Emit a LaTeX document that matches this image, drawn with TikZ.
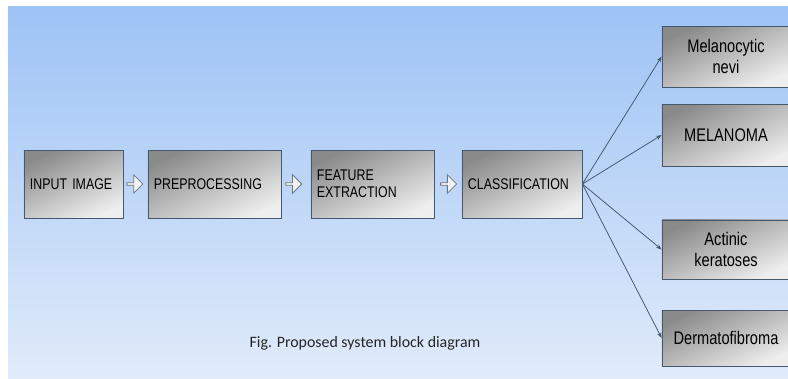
\documentclass[tikz,border=0pt]{standalone}
\usepackage{fontspec}
\usepackage{xcolor}
\usepackage{tikz}
\usetikzlibrary{shapes.arrows, arrows.meta, positioning, calc}
\newfontfamily\boxfont[FakeStretch=0.8]{Liberation Sans}
\newfontfamily\capfont{Carlito}
\definecolor{bgtop}{RGB}{157,195,245}
\definecolor{bgbot}{RGB}{225,235,250}
\definecolor{boxtop}{RGB}{138,138,138}
\definecolor{boxbot}{RGB}{238,238,238}
\definecolor{edgeblue}{RGB}{70,88,112}
\definecolor{arrowedge}{RGB}{105,118,132}

\begin{document}
\begin{tikzpicture}[x=0.025cm, y=-0.025cm,
    block/.style={draw=edgeblue, line width=0.5pt, top color=boxtop, bottom color=boxbot, shading angle=25,
      font=\boxfont\fontsize{11}{12}\selectfont, minimum height=1.7cm, align=left, inner xsep=0.15cm},
    outbox/.style={draw=edgeblue, line width=0.5pt, top color=boxtop, bottom color=boxbot, shading angle=25,
      font=\boxfont\fontsize{13}{15}\selectfont, text width=3cm, align=center, inner xsep=0.1cm},
    hollow/.style={single arrow, draw=arrowedge, fill=gray!10, line width=0.6pt, minimum height=0.4cm,
      minimum width=0.46cm, single arrow head extend=0.07cm, inner sep=0pt},
    link/.style={draw=edgeblue, line width=0.55pt, -{Stealth[length=4pt, width=3pt]}}]
    \useasboundingbox (0,0) rectangle (788,378);
    \clip (0,0) rectangle (788,378);

    % Background
    \fill[top color=bgtop, bottom color=bgbot] (8,6) rectangle (788,378);

    % Pipeline blocks
    \node [block, text width=2.175cm] (input) at (73.5,184) {INPUT IMAGE};
    \node [block, text width=3.025cm] (prep) at (214.5,184) {PREPROCESSING};
    \node [block, text width=2.775cm] (feat) at (372.5,184) {FEATURE\\EXTRACTION};
    \node [block, text width=2.7cm] (cls) at (522,184) {CLASSIFICATION};

    % Hollow arrows
    \node [hollow] (ar1) at ($(input.east)!0.45!(prep.west)$) {};
    \node [hollow] (ar2) at ($(prep.east)!0.4!(feat.west)$) {};
    \node [hollow] (ar3) at ($(feat.east)!0.5!(cls.west)$) {};

    % Classes
    \node [outbox, minimum height=1.52cm] (nevi) at (726,56.5) {Melanocytic\\nevi};
    \node [outbox, minimum height=1.55cm] (mel) at (726,135) {MELANOMA};
    \node [outbox, minimum height=1.48cm] (akiec) at (726,249.5) {Actinic\\keratoses};
    \node [outbox, minimum height=1.4cm] (derm) at (726,338) {Dermatofibroma};

    % Fan out
    \draw [link] (cls.east) -- (nevi.west);
    \draw [link] (cls.east) -- (mel.west);
    \draw [link] (cls.east) -- (akiec.west);
    \draw [link] (cls.east) -- (derm.west);

    % Caption
    \node [font=\capfont\fontsize{11.3}{13}\selectfont, text=black!85] (cap) at (365,343) {Fig. Proposed system block diagram};
\end{tikzpicture}
\end{document}
